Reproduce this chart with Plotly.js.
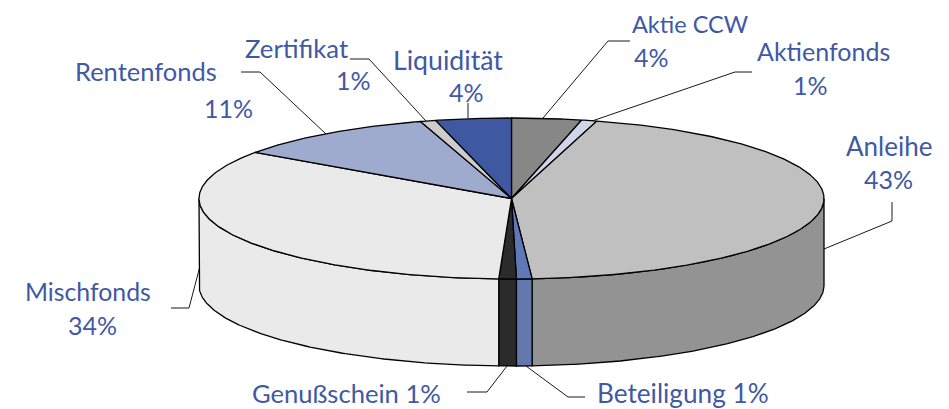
<!DOCTYPE html>
<html><head><meta charset="utf-8">
<script src="https://cdn.plot.ly/plotly-3.0.1.min.js"></script>
<style>html,body{margin:0;padding:0;background:#fff}#c{width:949px;height:409px}</style>
</head><body><div id="c"></div>
<script>
// Data, clockwise from 12 o'clock
const categories = ["Aktie CCW","Aktienfonds","Anleihe","Beteiligung","Genußschein","Mischfonds","Rentenfonds","Zertifikat","Liquidität"];
const drawnShares = [3.6,0.8,44.5,0.8,0.9,34,10.6,0.8,3.9];
const printedPercent = ["4%","1%","43%","1%","1%","34%","11%","1%","4%"];

// Styles
const topColors  = ["#878787","#cfd6ea","#c0c0c0","#5f78b8","#2b2b2b","#eaeaea","#9eabcf","#cccccc","#3f58a2"];
const sideColors = ["#6a6a6a","#a9b0c4","#939393","#6478b0","#2b2b2b","#eaeaea","#8390b0","#aaaaaa","#34497f"];
const textColor = "#4059a4";

// Pie geometry, in page pixels on the hidden axes
const cx = 511.5, cy = 198.5, rx = 312.5, ry = 80.5, depth = 87;
const px = a => cx + rx*Math.sin(a);
const py = a => cy - ry*Math.cos(a);

const total = drawnShares.reduce((s,v)=>s+v,0);
let acc = 0;
const wedges = drawnShares.map(v => { const a0 = acc/total*2*Math.PI; acc += v; return [a0, acc/total*2*Math.PI]; });

function arc(a0,a1){ const n=Math.max(2,Math.ceil((a1-a0)/0.01)); const out=[]; for(let i=0;i<=n;i++) out.push(a0+(a1-a0)*i/n); return out; }
const outline = {color:"#000",width:1.3};
const traces = [];
// side faces: only the front half (pi/2 .. 3pi/2) is visible
wedges.forEach(([a0,a1],i)=>{
  const s=Math.max(a0,Math.PI/2), e=Math.min(a1,1.5*Math.PI);
  if(e<=s) return;
  const t=arc(s,e);
  const xs=t.map(px).concat(t.slice().reverse().map(px)); xs.push(xs[0]);
  const ys=t.map(py).concat(t.slice().reverse().map(a=>py(a)+depth)); ys.push(ys[0]);
  traces.push({type:"scatter",mode:"lines",x:xs,y:ys,fill:"toself",fillcolor:sideColors[i],line:outline,hoverinfo:"skip",showlegend:false,name:categories[i]+" Seite"});
});
// top faces
wedges.forEach(([a0,a1],i)=>{
  const t=arc(a0,a1);
  const xs=[cx].concat(t.map(px),[cx]);
  const ys=[cy].concat(t.map(py),[cy]);
  traces.push({type:"scatter",mode:"lines",x:xs,y:ys,fill:"toself",fillcolor:topColors[i],line:outline,hoverinfo:"skip",showlegend:false,name:categories[i]});
});

// Leader lines (page pixels)
const leaders = [
 [[241,72],[260,72],[326,134]],
 [[350,59],[369,59],[426,121]],
 [[468,103],[468,118]],
 [[630,41],[608,41],[543,118]],
 [[752,72],[735,72],[592,121]],
 [[824,249],[892,221],[892,202]],
 [[171,308],[189,308],[200,266]],
 [[467,392],[487,392],[507,366]],
 [[526,366],[568,397],[585,397]]
];
const shapes = leaders.map(p=>({type:"path",xref:"x",yref:"y",layer:"below",
  path:p.map((q,i)=>(i?"L":"M")+q[0]+","+q[1]).join(" "),line:{color:"#1a1a1a",width:1}}));

// Label placement
const txt=(x,y,t,size)=>({x,y,text:t,xref:"x",yref:"y",showarrow:false,xanchor:"center",yanchor:"middle",
  font:{family:"Lato, 'Open Sans', sans-serif",size:size||25,color:textColor}});
const annotations=[
 txt(146,71,categories[6],25.5), txt(228,108,printedPercent[6]),
 txt(296.5,48,categories[7],25.7), txt(353,80,printedPercent[7]),
 txt(447.5,60,categories[8],26.7), txt(466,92,printedPercent[8]),
 txt(690,24,categories[0],23.5), txt(651,57,printedPercent[0]),
 txt(823,51,categories[1],25), txt(810,85,printedPercent[1]),
 txt(888.5,146,categories[2],26), txt(888.5,179,printedPercent[2]),
 txt(88,291,categories[5],24.8), txt(92,325,printedPercent[5]),
 txt(346.5,393,categories[4]+" "+printedPercent[4],25.6),
 txt(683,392.5,categories[3]+" "+printedPercent[3],26.2)
];

Plotly.newPlot("c",traces,{
 width:949,height:409,margin:{l:0,r:0,t:0,b:0},paper_bgcolor:"#fff",plot_bgcolor:"#fff",
 xaxis:{range:[0,949],visible:false,fixedrange:true},
 yaxis:{range:[409,0],visible:false,fixedrange:true},
 shapes,annotations,showlegend:false
},{displayModeBar:false,staticPlot:true});
</script></body></html>
